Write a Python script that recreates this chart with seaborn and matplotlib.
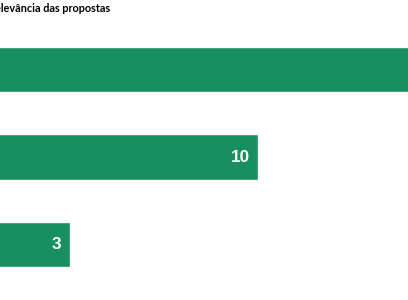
import matplotlib
matplotlib.use("Agg")
import matplotlib.pyplot as plt
import seaborn as sns
import pandas as pd

title = "Relevância das propostas"
categories = ["Alta", "Média", "Baixa"]
values = [17, 10, 3]
bar_color = "#178F5F"

df = pd.DataFrame({"categoria": categories, "valor": values})

sns.set_theme(style="white")
plt.rcParams["font.family"] = ["Liberation Sans", "DejaVu Sans"]

W, H = 408, 300
fig = plt.figure(figsize=(W / 100, H / 100), dpi=100)

# axes: x zero sits slightly left of the canvas (cropped chart)
px_per_unit = 26.86
x0_px = -10.6
ax_left = x0_px / W
ax_width = (W - x0_px) / W
top_px, bot_px = 25.75, 288.25
ax = fig.add_axes([ax_left, 1 - bot_px / H, ax_width, (bot_px - top_px) / H])

sns.barplot(data=df, x="valor", y="categoria", orient="h", color=bar_color,
            saturation=1, width=0.515, ax=ax)

ax.set_xlim(0, (W - x0_px) / px_per_unit)
ax.set_ylim(2.5, -0.5)
ax.set_axis_off()

for i, v in enumerate(values):
    ax.annotate(str(v), xy=(v, i), xytext=(-6, 0), textcoords="offset points",
                ha="right", va="center", color="white", fontsize=12.3,
                fontweight="bold", annotation_clip=True)

fig.text(-12 / W, 1 - 12.5 / H, title, ha="left", va="baseline",
         fontsize=7.85, fontweight="bold", family=["Lato", "DejaVu Sans"],
         color="#000000")

fig.savefig("out.png", dpi=100)
